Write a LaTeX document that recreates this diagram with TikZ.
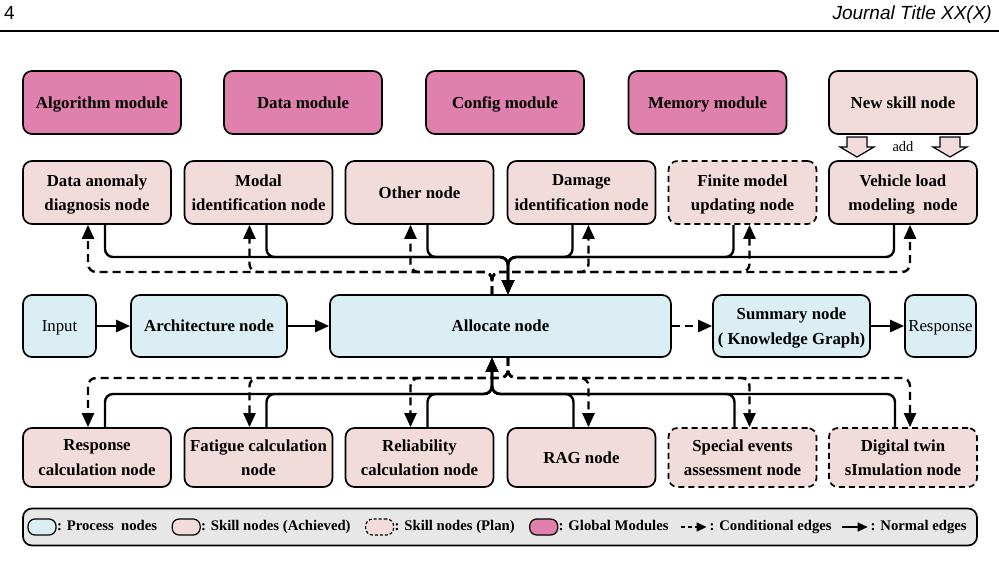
\documentclass[tikz,border=0pt]{standalone}
\usepackage{fontspec}
\setmainfont{Liberation Serif}
\setsansfont{Liberation Sans}
\usetikzlibrary{arrows.meta,positioning}
\definecolor{gmc}{RGB}{224,128,172}
\definecolor{skc}{RGB}{242,220,219}
\definecolor{prc}{RGB}{218,238,243}
\definecolor{lgc}{RGB}{231,231,231}
\begin{document}
\begin{tikzpicture}[x=1pt,y=-1pt,
  box/.style={draw=black, line width=1.7pt, rounded corners=9pt, align=center, inner sep=2pt, text depth=0pt,
    font=\fontsize{16.8}{24.5}\selectfont\bfseries},
  gm/.style={box, fill=gmc, minimum width=158pt, minimum height=63pt},
  sk/.style={box, fill=skc, minimum width=148pt, minimum height=63pt},
  skp/.style={sk, dash pattern=on 6pt off 4pt},
  pr/.style={box, fill=prc, minimum height=62pt},
  prr/.style={pr, font=\fontsize{16.8}{24.5}\selectfont},
  edgeline/.style={line width=2.4pt, -{Triangle[length=14pt,width=12pt]}, rounded corners=8pt},
  cedge/.style={edgeline, dash pattern=on 8pt off 5pt},
  licon/.style={draw, line width=1.2pt, rounded corners=7pt, minimum width=28pt, minimum height=16pt, inner sep=0pt, outer sep=0pt},
  ltext/.style={inner sep=0pt, outer sep=0pt, anchor=west, text height=10pt, text depth=3pt,
    font=\fontsize{14.7}{16}\selectfont\bfseries},
  hollow/.style={draw=black, line width=1.2pt, fill=skc},
]
\useasboundingbox (0,0) rectangle (999,560);
% header
\node[anchor=base west, inner sep=0pt, font=\sffamily\fontsize{19}{19}\selectfont] (pg) at (4,19) {4};
\node[anchor=base east, inner sep=0pt, font=\sffamily\itshape\fontsize{19}{19}\selectfont] (jtitle) at (992,19) {Journal Title XX(X)};
\draw[line width=1.2pt] (0,31) -- (999,31);

% global modules
\node[gm] (alg) at (102,102.5) {Algorithm module};
\node[gm] (dat) at (303,102.5) {Data module};
\node[gm] (cfg) at (505,102.5) {Config module};
\node[gm] (mem) at (707.5,102.5) {Memory module};
\node[sk] (nsk) at (903,102.5) {New skill node};

% skill row 1
\node[sk] (da) at (97,192.5) {Data anomaly\\diagnosis node};
\node[sk] (mi) at (258.5,192.5) {Modal\\identification node};
\node[sk] (ot) at (419.5,192.5) {Other node};
\node[sk] (di) at (581.5,192.5) {Damage\\identification node};
\node[skp] (fm) at (742.5,192.5) {Finite model\\updating node};
\node[sk] (vl) at (903,192.5) {Vehicle load\\modeling\ \ node};

% add arrows
\draw[hollow] (847,137) -- (867,137) -- (867,147) -- (874,147) -- (857,157) -- (840,147) -- (847,147) -- cycle;
\draw[hollow] (940,137) -- (960,137) -- (960,147) -- (967,147) -- (950,157) -- (933,147) -- (940,147) -- cycle;
\node[font=\fontsize{14.5}{16}\selectfont, inner sep=0pt] (addl) at (903,147) {add};

% process row
\node[prr, minimum width=73pt] (in) at (59.5,326) {Input};
\node[pr, minimum width=156pt] (arch) at (209,326) {Architecture node};
\node[pr, minimum width=341pt] (alloc) at (500.5,326) {Allocate node};
\node[pr, minimum width=157pt] (sum) at (791.5,326) {Summary node\\( Knowledge Graph)};
\node[prr, minimum width=71pt] (resp) at (940.5,326) {Response};

% skill row 2
\node[sk, minimum height=59pt] (rc) at (97,457.5) {Response\\calculation node};
\node[sk, minimum height=59pt] (fc) at (258.5,457.5) {Fatigue calculation\\node};
\node[sk, minimum height=59pt] (rl) at (419.5,457.5) {Reliability\\calculation node};
\node[sk, minimum height=59pt] (rag) at (581.5,457.5) {RAG node};
\node[skp, minimum height=59pt] (se) at (742.5,457.5) {Special events\\assessment node};
\node[skp, minimum height=59pt] (dt) at (903,457.5) {Digital twin\\sImulation node};

% middle arrows
\draw[edgeline] (in) -- (arch);
\draw[edgeline] (arch) -- (alloc);
\draw[cedge] (alloc) -- (sum);
\draw[edgeline] (sum) -- (resp);

% top connectors
\coordinate (jt1) at (508,257);
\coordinate (jd1) at (492,272);
\foreach \n in {da,mi,ot} {
  \draw[edgeline] ([xshift=8pt]\n.south) |- (jt1) -- (alloc.north -| jt1);
  \draw[cedge] (alloc.north -| jd1) -- (jd1) -| ([xshift=-9pt]\n.south);
}
\foreach \n in {di,fm,vl} {
  \draw[edgeline] ([xshift=-9pt]\n.south) |- (jt1) -- (alloc.north -| jt1);
  \draw[cedge] (alloc.north -| jd1) -- (jd1) -| ([xshift=7pt]\n.south);
}

% bottom connectors
\coordinate (jb1) at (492,394);
\coordinate (jbd) at (508,378);
\foreach \n in {rc,fc,rl} {
  \draw[edgeline] ([xshift=8pt]\n.north) |- (jb1) -- (alloc.south -| jb1);
  \draw[cedge] (alloc.south -| jbd) -- (jbd) -| ([xshift=-9pt]\n.north);
}
\foreach \n in {rag,se,dt} {
  \draw[edgeline] ([xshift=-8pt]\n.north) |- (jb1) -- (alloc.south -| jb1);
  \draw[cedge] (alloc.south -| jbd) -- (jbd) -| ([xshift=7pt]\n.north);
}

% legend
\node[draw, line width=1.7pt, fill=lgc, rounded corners=9pt, minimum width=954pt, minimum height=37pt, inner sep=0pt] (leg) at (500,527) {};
\node[licon, fill=prc] (l1) at (42,527) {};
\node[ltext, right=1pt of l1] (t1) {: Process\ \ nodes};
\node[licon, fill=skc, right=15pt of t1] (l2) {};
\node[ltext, right=1pt of l2] (t2) {: Skill nodes (Achieved)};
\node[licon, fill=skc, dash pattern=on 3pt off 2pt, right=15pt of t2] (l3) {};
\node[ltext, right=1pt of l3] (t3) {: Skill nodes (Plan)};
\node[licon, fill=gmc, right=15pt of t3] (l4) {};
\node[ltext, right=1pt of l4] (t4) {: Global Modules};
\coordinate[right=12pt of t4] (a1s);
\coordinate[right=26pt of a1s] (a1e);
\draw[line width=1.4pt, dash pattern=on 4pt off 3pt, -{Triangle[length=10pt,width=9pt]}] (a1s) -- (a1e);
\node[ltext, right=3pt of a1e] (t5) {: Conditional edges};
\coordinate[right=10pt of t5] (a2s);
\coordinate[right=26pt of a2s] (a2e);
\draw[line width=1.4pt, -{Triangle[length=10pt,width=9pt]}] (a2s) -- (a2e);
\node[ltext, right=3pt of a2e] (t6) {: Normal edges};
\end{tikzpicture}
\end{document}
